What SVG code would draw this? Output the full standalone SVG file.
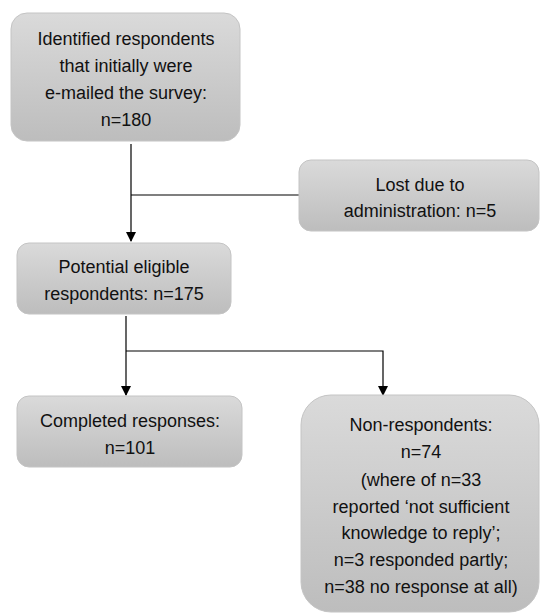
<svg xmlns="http://www.w3.org/2000/svg" width="540" height="613" viewBox="0 0 540 613">
<defs>
<linearGradient id="g" x1="0" y1="0" x2="0" y2="1">
<stop offset="0" stop-color="#dadada"/>
<stop offset="1" stop-color="#bdbdbd"/>
</linearGradient>
<marker id="arr" markerWidth="10" markerHeight="10" refX="9" refY="5" orient="auto" markerUnits="userSpaceOnUse">
<path d="M0,0 L10,5 L0,10 Z" fill="#000"/>
</marker>
</defs>
<style>
.box{fill:url(#g);stroke:#c4c4c4;stroke-width:1}
.t{font-family:"Liberation Sans",Arial,sans-serif;font-size:18px;fill:#111;text-anchor:middle}
.c{fill:none;stroke:#000;stroke-width:1.2}
</style>
<g id="connectors">
<path class="c" d="M131,144 V241" marker-end="url(#arr)"/>
<path class="c" d="M131,195 H300"/>
<path class="c" d="M126,316 V395" marker-end="url(#arr)"/>
<path class="c" d="M126,351 H383 V395" marker-end="url(#arr)"/>
</g>
<g id="n1">
<rect class="box" x="11" y="13" width="229" height="128" rx="16"/>
<text class="t" x="126" y="45">Identified respondents</text>
<text class="t" x="126" y="72">that initially were</text>
<text class="t" x="126" y="99">e-mailed the survey:</text>
<text class="t" x="126" y="126">n=180</text>
</g>
<g id="n2">
<rect class="box" x="299" y="160" width="240" height="71" rx="12"/>
<text class="t" x="420" y="191">Lost due to</text>
<text class="t" x="420" y="217">administration: n=5</text>
</g>
<g id="n3">
<rect class="box" x="17" y="243" width="214" height="71" rx="12"/>
<text class="t" x="124" y="273">Potential eligible</text>
<text class="t" x="124" y="300">respondents: n=175</text>
</g>
<g id="n4">
<rect class="box" x="17" y="396" width="225" height="71" rx="12"/>
<text class="t" x="130" y="427">Completed responses:</text>
<text class="t" x="130" y="454">n=101</text>
</g>
<g id="n5">
<rect class="box" x="301" y="395" width="238" height="217" rx="30"/>
<text class="t" x="421" y="431">Non-respondents:</text>
<text class="t" x="421" y="458">n=74</text>
<text class="t" x="421" y="486">(where of n=33</text>
<text class="t" x="421" y="513">reported ‘not sufficient</text>
<text class="t" x="421" y="539">knowledge to reply’;</text>
<text class="t" x="421" y="566">n=3 responded partly;</text>
<text class="t" x="421" y="593">n=38 no response at all)</text>
</g>
</svg>
